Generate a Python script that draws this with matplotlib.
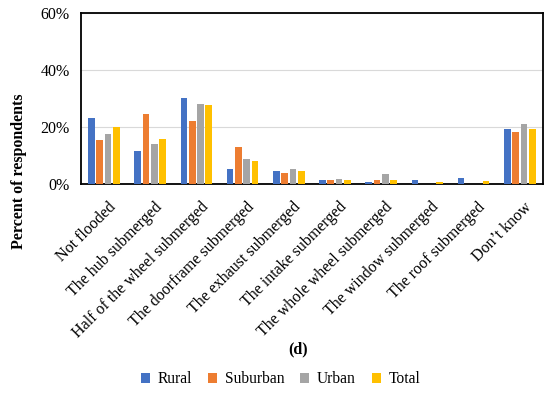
import numpy as np
import matplotlib
matplotlib.use("Agg")
from matplotlib import pyplot as plt

categories = ["Not flooded", "The hub submerged", "Half of the wheel submerged",
              "The doorframe submerged", "The exhaust submerged", "The intake submerged",
              "The whole wheel submerged", "The window submerged", "The roof submerged",
              "Don\u2019t know"]
rural = [23.3, 11.6, 30.2, 5.4, 4.7, 1.3, 0.6, 1.3, 2.0, 19.2]
suburban = [15.5, 24.7, 22.1, 12.9, 3.8, 1.3, 1.3, 0.0, 0.0, 18.2]
urban = [17.6, 14.1, 28.1, 8.7, 5.2, 1.6, 3.4, 0.0, 0.0, 21.1]
total = [20.0, 15.8, 27.6, 8.1, 4.6, 1.3, 1.4, 0.6, 1.0, 19.3]
series_names = ["Rural", "Suburban", "Urban", "Total"]
colors = ["#4472C4", "#ED7D31", "#A5A5A5", "#FFC000"]

plt.rcParams["font.family"] = ["Liberation Serif", "DejaVu Serif"]

fig = plt.figure(figsize=(5.5, 3.93), dpi=100)
ax = fig.add_axes([0.147, 0.532, 0.84, 0.435])

x = np.arange(len(categories))
step = 0.18
width = 0.145
for i, (vals, name, c) in enumerate(zip([rural, suburban, urban, total], series_names, colors)):
    ax.bar(x + (i - 1.5) * step, vals, width=width, color=c, label=name, zorder=3)

ax.set_xlim(-0.5, len(categories) - 0.5)
ax.set_ylim(0, 60)
ax.set_yticks([0, 20, 40, 60])
ax.set_yticklabels(["0%", "20%", "40%", "60%"], fontsize=11.5)
# labels sit slightly right of group centre, like Excel's rotated category labels
ax.set_xticks(x + 0.08)
ax.set_xticklabels(categories, rotation=45, ha="right", rotation_mode="anchor", fontsize=11.5)
ax.tick_params(axis="y", length=0, pad=8)
ax.tick_params(axis="x", length=0, pad=11)
ax.yaxis.grid(True, color="#d9d9d9", linewidth=0.8, zorder=0)
for s in ax.spines.values():
    s.set_linewidth(1.3)
    s.set_color("black")

fig.text(0.035, 0.565, "Percent of respondents", rotation=90, ha="center", va="center",
         fontsize=11.5, fontweight="bold")
fig.text(0.542, 0.112, "(d)", ha="center", va="center", fontsize=11.5, fontweight="bold")

handles, labels = ax.get_legend_handles_labels()
fig.legend(handles, labels, loc="center", bbox_to_anchor=(0.51, 0.035), ncol=4, frameon=False,
           fontsize=11.2, handlelength=0.6, handleheight=0.6, handletextpad=0.5, columnspacing=1.0)

fig.savefig("out.png", dpi=100)
